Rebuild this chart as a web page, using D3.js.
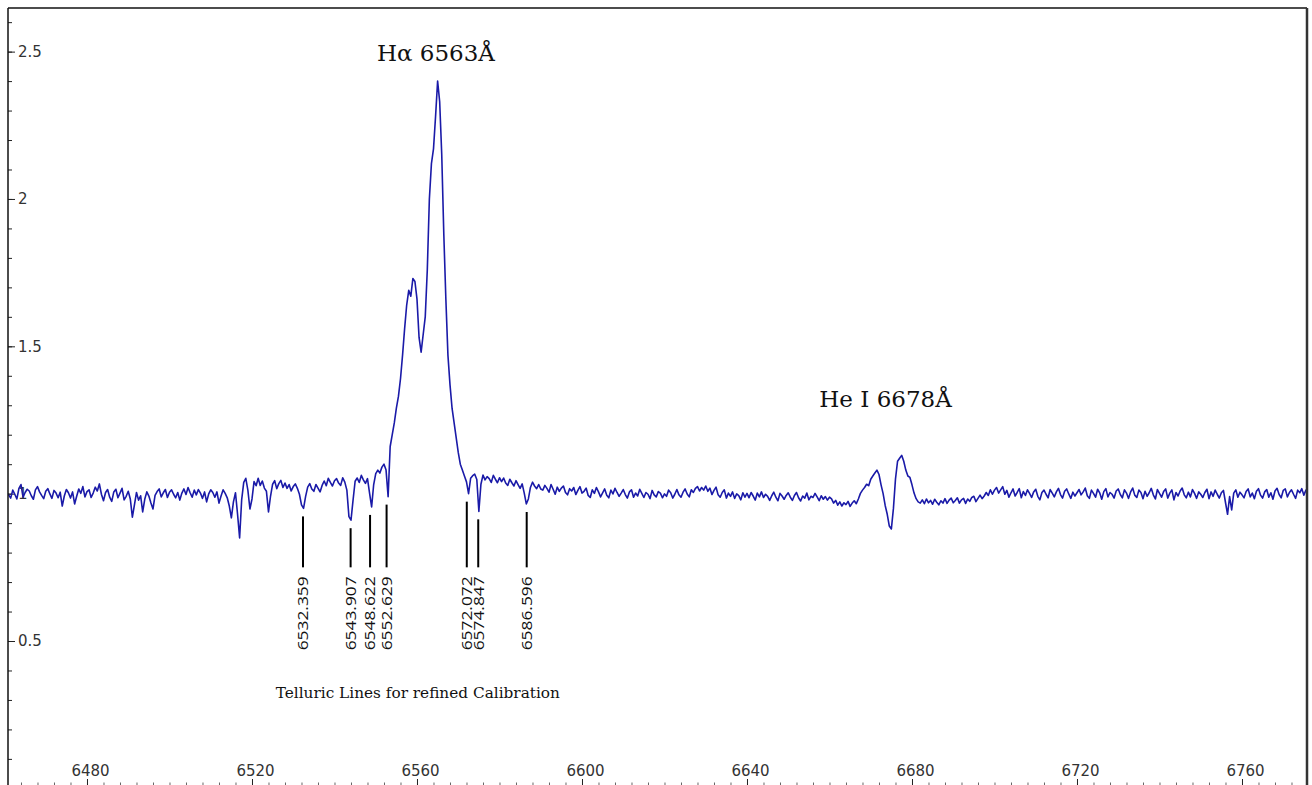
<!DOCTYPE html>
<html>
<head>
<meta charset="utf-8">
<script src="https://cdn.jsdelivr.net/npm/d3@7"></script>
<style>
  body { margin: 0; background: #fff; }
  svg { display: block; }
</style>
</head>
<body>
<svg id="chart" width="1312" height="785"></svg>
<script>
// spectrum, flux sampled every 0.5 A, each block starts at its own wavelength
const waveStep = 0.5;

const fluxBlueStart = 6460.5;
const fluxBlue = [
  1.002,0.996,0.985,1.012,0.998,0.982,1.018,1.031,0.988,1.004,1.015,1.009,0.993,0.981,1.013,1.024,1.006,0.994,0.983,1.008,
  1.017,0.999,0.984,1.011,1.002,0.986,1.005,0.958,0.992,1.014,1.003,0.985,1.006,0.965,0.991,1.016,1.001,1.024,0.989,1.007,
  1.013,0.987,1.002,1.022,1.009,1.033,0.998,0.976,1.004,1.014,0.988,0.974,1.006,1.015,0.986,1.002,1.018,0.979,0.991,1.008,
  0.982,0.920,0.962,1.004,0.978,0.993,0.938,0.981,1.006,0.992,0.968,0.948,0.994,1.007,1.016,0.989,1.003,1.014,0.987,1.005,
  1.013,0.998,0.986,1.004,0.978,1.002,1.016,0.997,1.021,1.003,0.988,1.012,0.996,1.014,1.002,0.984,1.006,0.972,0.999,1.013,
  1.004,0.988,1.006,0.968,0.992,1.013,1.001,0.986,0.958,0.918,0.972,1.003,0.930,0.850,0.980,1.038,1.052,1.012,0.948,0.982,
  1.041,1.027,1.052,1.028,1.043,1.019,1.008,0.938,0.992,1.032,1.044,1.017,1.034,1.045,1.021,1.036,1.018,1.031,1.009,1.024,
  1.033,1.018,0.998,0.962,0.950,0.991,1.022,1.034,1.016,1.008,1.031,1.019,1.006,1.028,1.043,1.027,1.052,1.038,1.026,1.044,
  1.051,1.036,1.028,1.054,1.039,1.012,0.922,0.910,0.978,1.042,1.053,1.038,1.062,1.047,1.035,1.051,1.002,0.955,1.031,1.068
];

const fluxHalphaStart = 6550.5;
const fluxHalpha = [
  1.08,1.07,1.09,1.10,1.08,0.99,1.16,1.20,1.24,1.29,1.33,1.39,1.47,1.56,1.64,1.69,1.67,1.73,1.72,1.66,
  1.53,1.48,1.54,1.60,1.76,2.00,2.12,2.17,2.28,2.40,2.33,2.15,1.88,1.66,1.47,1.37,1.29,1.24,1.19,1.14,
  1.10,1.08,1.06,1.04,1.00,1.052,1.061,1.066,1.048,0.94,1.032,1.063,1.047,1.058,1.051,1.038,1.062,1.049,1.037,1.054,
  1.041,1.053,1.036,1.028,1.049,1.037,1.026,1.044,1.031,1.018,1.033,1.002,0.965,0.982,1.021,1.039,1.026,1.017,1.031,1.016
];

const fluxMidStart = 6590.5;
const fluxMid = [
  1.012,1.028,1.018,1.005,1.031,1.015,0.998,1.022,1.008,1.019,1.026,1.004,0.996,1.017,1.009,1.021,0.997,1.011,1.024,1.002,
  1.008,1.019,0.994,0.987,1.013,1.001,1.021,1.006,0.989,1.003,1.016,0.995,0.986,1.012,0.999,1.018,1.004,0.991,1.002,1.014,
  0.997,0.985,1.006,1.013,0.988,1.002,0.992,1.015,1.001,0.987,1.004,0.998,0.983,1.011,0.996,0.989,1.007,1.002,0.986,0.999,
  0.991,1.012,1.003,0.985,0.998,1.014,0.996,0.988,1.005,1.016,0.999,0.989,1.013,1.004,1.018,1.024,1.009,1.021,1.012,1.026,
  1.008,1.019,0.997,1.011,1.022,0.996,0.988,1.004,1.013,0.985,1.002,0.991,1.006,0.984,0.999,0.993,0.979,1.003,0.988,1.001,
  0.986,1.004,0.992,0.978,1.002,0.989,1.006,0.987,0.998,0.991,0.977,0.993,1.005,0.988,0.976,1.001,0.992,0.981,0.994,1.003,
  0.988,0.977,0.994,1.004,0.986,0.975,0.992,0.985,1.002,0.979,0.991,0.987,1.001,0.989,0.976,0.993,0.981,0.990,0.978,0.988
];

const fluxHeIStart = 6660.5;
const fluxHeI = [
  0.982,0.968,0.977,0.961,0.972,0.958,0.969,0.963,0.974,0.957,0.968,0.976,0.966,0.982,1.001,1.012,1.021,1.032,1.027,1.049,
  1.06,1.07,1.08,1.065,1.03,1.00,0.96,0.93,0.89,0.88,0.95,1.05,1.11,1.12,1.13,1.11,1.08,1.06,1.055,1.03,
  1.002,0.983,0.972,0.968,0.979,0.966,0.982,0.969,0.977,0.964,0.981,0.971,0.962,0.976,0.968,0.983,0.967,0.978,0.985,0.969,
  0.977,0.986,0.968,0.979,0.984,0.967,0.982,0.974,0.987,0.991,0.973,0.984,0.995,0.983,0.992,1.004,0.994,1.013,0.998,1.012
];

const fluxRedStart = 6700.5;
const fluxRed = [
  1.021,1.002,1.013,1.024,0.998,1.011,0.988,1.003,1.016,0.992,1.004,1.017,0.986,1.007,0.994,1.013,1.001,0.987,1.006,1.015,
  0.991,0.979,1.004,1.012,0.998,0.986,1.014,1.002,0.989,1.006,1.018,0.997,0.985,1.008,1.016,0.999,0.984,1.005,0.992,1.003,
  1.014,0.996,1.006,1.019,0.993,0.984,1.012,1.001,0.988,1.015,1.003,0.981,1.007,1.017,0.989,1.004,0.998,0.985,1.009,1.016,
  0.997,0.986,1.013,1.002,0.984,1.006,1.019,0.995,0.987,1.012,1.004,0.983,1.008,0.991,1.003,1.018,0.996,0.982,1.014,1.001,
  0.988,1.007,1.016,0.985,1.002,1.013,0.979,1.004,0.992,1.009,1.019,0.996,0.986,1.005,0.989,1.014,1.001,0.984,1.006,0.998,
  0.987,1.004,1.015,0.983,1.006,0.991,1.012,0.998,0.985,1.003,1.011,0.970,0.930,0.990,0.945,1.002,1.013,0.988,1.005,0.996,
  0.986,1.007,1.016,0.989,1.002,0.983,1.008,1.017,0.995,0.985,1.006,1.014,0.988,1.003,0.981,1.009,1.018,0.997,0.986,1.011,
  1.016,0.989,1.004,1.013,0.998,0.984,1.012,1.003,1.017,0.995,1.012,1.004
];

// telluric lines used for calibration
const telluricLines = [6532.359, 6543.907, 6548.622, 6552.629, 6572.072, 6574.847, 6586.596];

// line labels: text, wavelength and flux of the label anchor
const lineLabelText = ["H\u03b1 6563\u00c5", "He I 6678\u00c5"];
const lineLabelWave = [6564.6, 6673.6];
const lineLabelFlux = [2.468, 1.294];

const captionText = "Telluric Lines for refined Calibration";

const xMajorTicks = [6480, 6520, 6560, 6600, 6640, 6680, 6720, 6760];
const yMajorTicks = [0.5, 1, 1.5, 2, 2.5];

// ---- layout
const width = 1312, height = 785;
const margin = {top: 8, right: 5, bottom: 0, left: 8};

const x = d3.scaleLinear()
  .domain([6460.85, 6775.76])
  .range([margin.left, width - margin.right]);
const y = d3.scaleLinear()
  .domain([0.0114, 2.648])
  .range([height - margin.bottom, margin.top]);

const svg = d3.select("#chart");

// build spectrum points
function block(start, values) {
  return values.map((f, i) => ({w: start + i * waveStep, f: f}));
}
const spectrum = [].concat(
  block(fluxBlueStart, fluxBlue),
  block(fluxHalphaStart, fluxHalpha),
  block(fluxMidStart, fluxMid),
  block(fluxHeIStart, fluxHeI),
  block(fluxRedStart, fluxRed)
);

svg.append("defs").append("clipPath").attr("id", "plot-clip")
  .append("rect")
  .attr("x", margin.left).attr("y", margin.top)
  .attr("width", width - margin.left - margin.right)
  .attr("height", height - margin.top - margin.bottom);

// y axis, ticks inside to the right
const yMinor = d3.range(1, 27).map(d => d / 10);
svg.append("g")
  .attr("transform", "translate(" + margin.left + ",0)")
  .call(d3.axisRight(y).tickValues(yMinor).tickSize(4).tickFormat(""))
  .call(g => g.select(".domain").remove())
  .call(g => g.selectAll("line").attr("stroke", "#222"));

svg.append("g")
  .attr("transform", "translate(" + margin.left + ",0)")
  .call(d3.axisRight(y).tickValues(yMajorTicks).tickSize(7).tickPadding(3).tickFormat(d3.format("")))
  .call(g => g.select(".domain").remove())
  .call(g => g.selectAll("line").attr("stroke", "#222"))
  .call(g => g.selectAll("text")
    .attr("fill", "#333")
    .style("font-family", "'DejaVu Sans', Verdana, sans-serif")
    .style("font-size", "15px"));

// x axis along the bottom edge, ticks pointing up
const xMinor = d3.range(6464, 6776, 4);
svg.append("g")
  .attr("transform", "translate(0," + height + ")")
  .call(d3.axisTop(x).tickValues(xMinor).tickSize(2.5).tickFormat(""))
  .call(g => g.select(".domain").remove())
  .call(g => g.selectAll("line").attr("stroke", "#666"));

svg.append("g")
  .attr("transform", "translate(0," + height + ")")
  .call(d3.axisTop(x).tickValues(xMajorTicks).tickSize(6).tickPadding(3).tickFormat(d3.format("")))
  .call(g => g.select(".domain").remove())
  .call(g => g.selectAll("line").attr("stroke", "#222"))
  .call(g => g.selectAll("text")
    .attr("fill", "#333")
    .attr("dx", 3)
    .style("font-family", "'DejaVu Sans', Verdana, sans-serif")
    .style("font-size", "15px"));

// spectrum line
const line = d3.line().x(d => x(d.w)).y(d => y(d.f));
svg.append("path")
  .datum(spectrum)
  .attr("clip-path", "url(#plot-clip)")
  .attr("fill", "none")
  .attr("stroke", "#1a1aa8")
  .attr("stroke-width", 1.6)
  .attr("stroke-linejoin", "round")
  .attr("d", line);

// telluric markers: start a little below the dip in the spectrum
const markerBottom = y(0.75);
function dipY(w) {
  const near = spectrum.filter(d => Math.abs(d.w - w) <= 0.6);
  return y(d3.min(near, d => d.f)) + 8;
}
const markers = svg.append("g").selectAll("g")
  .data(telluricLines)
  .join("g");

markers.append("line")
  .attr("x1", d => x(d)).attr("x2", d => x(d))
  .attr("y1", d => dipY(d))
  .attr("y2", markerBottom)
  .attr("stroke", "#000")
  .attr("stroke-width", 2);

markers.append("text")
  .attr("transform", d => "translate(" + x(d) + "," + (markerBottom + 9) + ") rotate(-90)")
  .attr("text-anchor", "end")
  .attr("dy", "0.36em")
  .attr("textLength", 74)
  .attr("lengthAdjust", "spacingAndGlyphs")
  .attr("fill", "#111")
  .style("font-family", "'Open Sans', sans-serif")
  .style("font-size", "15px")
  .text(d => d3.format(".3f")(d));

// line labels
svg.append("g").selectAll("text")
  .data(lineLabelText)
  .join("text")
  .attr("x", (d, i) => x(lineLabelWave[i]))
  .attr("y", (d, i) => y(lineLabelFlux[i]))
  .attr("text-anchor", "middle")
  .attr("fill", "#111")
  .style("font-family", "'DejaVu Serif', serif")
  .style("font-size", "23px")
  .text(d => d);

svg.append("text")
  .attr("x", x(6560.2))
  .attr("y", y(0.307))
  .attr("text-anchor", "middle")
  .attr("fill", "#111")
  .style("font-family", "'DejaVu Serif', serif")
  .style("font-size", "15.3px")
  .text(captionText);

// frame
svg.append("line")
  .attr("x1", margin.left).attr("x2", margin.left)
  .attr("y1", margin.top).attr("y2", height)
  .attr("stroke", "#111").attr("stroke-width", 1.5);
svg.append("line")
  .attr("x1", margin.left).attr("x2", width - margin.right)
  .attr("y1", margin.top).attr("y2", margin.top)
  .attr("stroke", "#111").attr("stroke-width", 1.5);
svg.append("line")
  .attr("x1", width - margin.right).attr("x2", width - margin.right)
  .attr("y1", margin.top).attr("y2", height)
  .attr("stroke", "#333").attr("stroke-width", 2.5);
</script>
</body>
</html>
